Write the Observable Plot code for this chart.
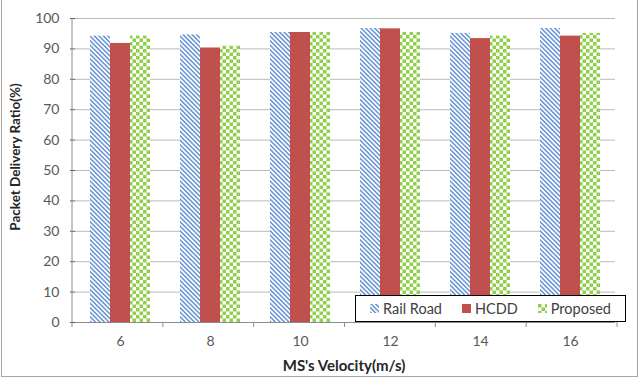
<!DOCTYPE html>
<html>
<head>
<meta charset="utf-8">
<script src="https://cdn.jsdelivr.net/npm/d3@7"></script>
<script src="https://cdn.jsdelivr.net/npm/@observablehq/plot@0.6"></script>
<style>
  body { margin: 0; background: #fff; }
  #wrap { position: relative; width: 640px; height: 380px; font-family: Lato, "Open Sans", sans-serif; }
  #wrap svg.chart { position: absolute; left: 0; top: 0; }
  .border { position: absolute; left: 1px; top: -1px; width: 635px; height: 376px; border: 1px solid #a6a6a6; pointer-events: none; }
  .ytitle { position: absolute; left: 15px; top: 157px; transform: translate(-50%, -50%) rotate(-90deg); white-space: nowrap; font-weight: 700; font-size: 13.5px; color: #262626; }
  .xtitle { position: absolute; left: 344px; top: 365px; transform: translate(-50%, -50%); white-space: nowrap; font-weight: 700; font-size: 15px; color: #262626; }
  .legend { position: absolute; left: 355px; top: 295px; width: 261px; height: 25px; border: 1px solid #000; background: #fff; display: flex; align-items: center; justify-content: space-around; font-size: 14.5px; color: #404040; padding: 0 4px; box-sizing: content-box; }
  .legend span.item { display: flex; align-items: center; gap: 4px; }
  .legend svg { display: block; }
</style>
</head>
<body>
<div id="wrap"></div>
<script>
// Packet delivery ratio by mobile-sink velocity
const velocities = ["6", "8", "10", "12", "14", "16"];
const seriesNames = ["Rail Road", "HCDD", "Proposed"];
const railRoad = [94.2, 94.6, 95.4, 96.7, 95.1, 96.7];
const hcdd     = [91.8, 90.3, 95.4, 96.6, 93.4, 94.2];
const proposed = [94.2, 90.9, 95.4, 95.4, 94.2, 95.1];
const yTicks = [0, 10, 20, 30, 40, 50, 60, 70, 80, 90, 100];

const seriesValues = [railRoad, hcdd, proposed];
const rows = velocities.flatMap((v, i) =>
  seriesNames.map((s, j) => ({velocity: v, series: s, value: seriesValues[j][i]}))
);

const fills = ["url(#hatch-blue)", "#c0504d", "url(#check-green)"];

// Pattern definitions used by the bar fills and the legend swatches
function patternDefs() {
  const defs = d3.create("svg:defs");
  const h = defs.append("pattern")
    .attr("id", "hatch-blue").attr("patternUnits", "userSpaceOnUse")
    .attr("width", 3.2).attr("height", 3.2)
    .attr("patternTransform", "rotate(-45)");
  h.append("rect").attr("width", 3.2).attr("height", 3.2).attr("fill", "#ffffff");
  h.append("rect").attr("width", 1.6).attr("height", 3.2).attr("fill", "#6f9ad6");
  const c = defs.append("pattern")
    .attr("id", "check-green").attr("patternUnits", "userSpaceOnUse")
    .attr("width", 7).attr("height", 7);
  c.append("rect").attr("width", 7).attr("height", 7).attr("fill", "#ffffff");
  c.append("rect").attr("width", 3.5).attr("height", 3.5).attr("fill", "#8fcf4a");
  c.append("rect").attr("x", 3.5).attr("y", 3.5).attr("width", 3.5).attr("height", 3.5).attr("fill", "#8fcf4a");
  return defs.node();
}

const chart = Plot.plot({
  width: 640,
  height: 380,
  marginLeft: 72,
  marginRight: 23,
  marginTop: 18,
  marginBottom: 58,
  style: {fontFamily: "Lato, 'Open Sans', sans-serif", fontSize: "14px", color: "#595959", background: "transparent"},
  facet: {data: rows, x: "velocity", marginTop: 0, marginBottom: 0, marginLeft: 0, marginRight: 0},
  fx: {domain: velocities, padding: 0, label: null, tickSize: 0, tickPadding: 14},
  x: {domain: seriesNames, paddingInner: 0, paddingOuter: 0.72, axis: null},
  y: {domain: [0, 100], ticks: yTicks, tickSize: 5, tickPadding: 11, label: null},
  color: {domain: seriesNames, range: fills},
  marks: [
    patternDefs,
    Plot.ruleY(yTicks.slice(1), {stroke: "#bababa", strokeWidth: 1}),
    Plot.barY(rows, {x: "series", y: "value", fill: "series"}),
    Plot.ruleY([0], {stroke: "#8c8c8c"})
  ]
});
chart.classList.add("chart");

// Vertical value axis line and category boundary ticks
{
  const fx = chart.scale("fx");
  const ys = chart.scale("y");
  const band = d3.scaleBand().domain(fx.domain).range(fx.range).padding(0);
  const g = d3.select(chart).append("g").attr("stroke", "#8c8c8c");
  const [y0, y1] = [ys.range[0], ys.range[1]];
  g.append("line").attr("x1", fx.range[0]).attr("x2", fx.range[0]).attr("y1", y0).attr("y2", y1);
  const edges = velocities.map(v => band(v)).concat([band(velocities[velocities.length - 1]) + band.bandwidth()]);
  g.selectAll("line.edge").data(edges).join("line").attr("class", "edge")
    .attr("x1", d => d).attr("x2", d => d).attr("y1", y0).attr("y2", y0 + 5);
}

const wrap = document.getElementById("wrap");
wrap.appendChild(chart);

const yTitle = document.createElement("div");
yTitle.className = "ytitle";
yTitle.textContent = "Packet Delivery Ratio(%)";
wrap.appendChild(yTitle);

const xTitle = document.createElement("div");
xTitle.className = "xtitle";
xTitle.textContent = "MS's Velocity(m/s)";
wrap.appendChild(xTitle);

// Legend box drawn over the lower right of the plot area
const legend = document.createElement("div");
legend.className = "legend";
seriesNames.forEach((name, i) => {
  const item = document.createElement("span");
  item.className = "item";
  const sw = d3.create("svg").attr("width", 9).attr("height", 9);
  sw.append("rect").attr("width", 9).attr("height", 9).attr("fill", fills[i]);
  item.appendChild(sw.node());
  const label = document.createElement("span");
  label.textContent = name;
  item.appendChild(label);
  legend.appendChild(item);
});
wrap.appendChild(legend);

const border = document.createElement("div");
border.className = "border";
wrap.appendChild(border);
</script>
</body>
</html>
